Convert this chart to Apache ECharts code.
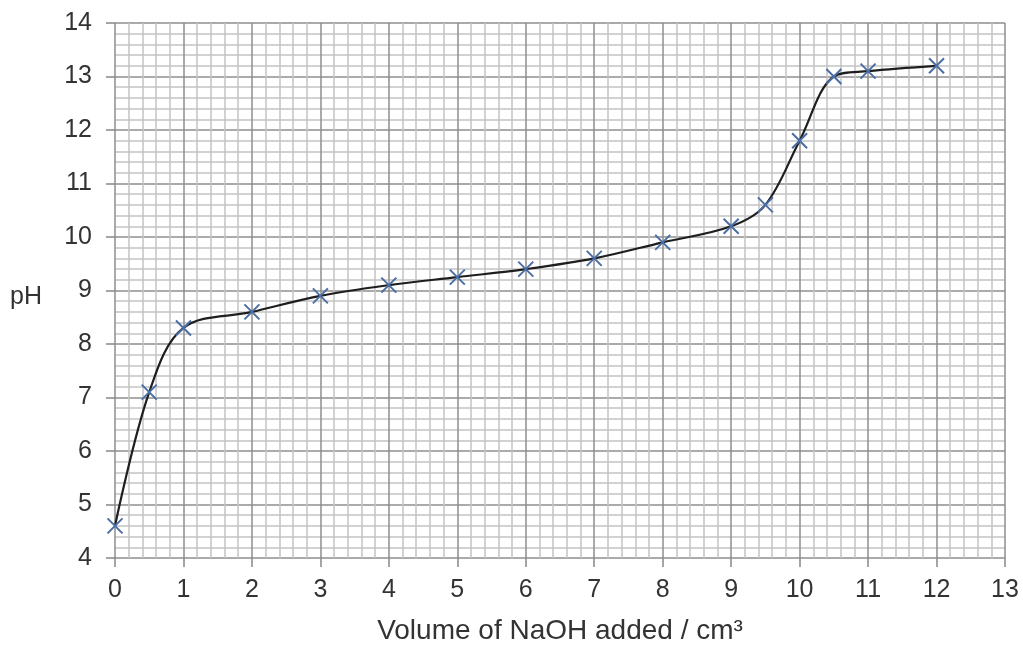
<!DOCTYPE html>
<html>
<head>
<meta charset="utf-8">
<script src="https://cdn.jsdelivr.net/npm/echarts@6/dist/echarts.min.js"></script>
<style>html,body{margin:0;padding:0;background:#fff;}#c{width:1023px;height:650px;}</style>
</head>
<body>
<div id="c"></div>
<script>
var volume = [0, 0.5, 1, 2, 3, 4, 5, 6, 7, 8, 9, 9.5, 10, 10.5, 11, 12];
var pH = [4.6, 7.1, 8.3, 8.6, 8.9, 9.1, 9.25, 9.4, 9.6, 9.9, 10.2, 10.6, 11.8, 13.0, 13.1, 13.2];
var xTitle = 'Volume of NaOH added / cm³';
var yTitle = 'pH';

var pts = volume.map(function (v, i) { return [v, pH[i]]; });
var chart = echarts.init(document.getElementById('c'));
var font = 'Liberation Sans, Arial, sans-serif';
chart.setOption({
  animation: false,
  grid: { left: 115, right: 18, top: 23, bottom: 85 },
  xAxis: {
    type: 'value', min: 0, max: 13, interval: 1,
    name: xTitle, nameLocation: 'middle', nameGap: 59,
    nameTextStyle: { fontFamily: font, fontSize: 28, color: '#333' },
    axisLine: { show: false },
    axisTick: { show: true, length: 9, lineStyle: { color: '#888', width: 1.5 } },
    axisLabel: { fontFamily: font, fontSize: 25, color: '#333', margin: 20 },
    splitLine: { show: true, lineStyle: { color: '#8e8e8e', width: 1.5 } },
    minorTick: { show: false, splitNumber: 5 },
    minorSplitLine: { show: true, lineStyle: { color: '#c4c4c4', width: 1.5 } }
  },
  yAxis: {
    type: 'value', min: 4, max: 14, interval: 1,
    axisLine: { show: false },
    axisTick: { show: true, length: 9, lineStyle: { color: '#888', width: 1.5 } },
    axisLabel: { fontFamily: font, fontSize: 25, color: '#333', margin: 23 },
    splitLine: { show: true, lineStyle: { color: '#8e8e8e', width: 1.5 } },
    minorTick: { show: false, splitNumber: 5 },
    minorSplitLine: { show: true, lineStyle: { color: '#c4c4c4', width: 1.5 } }
  },
  graphic: [{
    type: 'text', left: 10, top: 285,
    style: { text: yTitle, fontFamily: font, fontSize: 25, fill: '#333' }
  }],
  series: [{
    type: 'line', data: pts, smooth: 0.35,
    lineStyle: { color: '#1e1e1e', width: 2.2 },
    symbol: 'path://M0,0L10,10M10,0L0,10',
    symbolSize: 15,
    itemStyle: { color: 'rgba(0,0,0,0)', borderColor: '#4b6ea6', borderWidth: 2 },
    z: 5
  }]
});
</script>
</body>
</html>
